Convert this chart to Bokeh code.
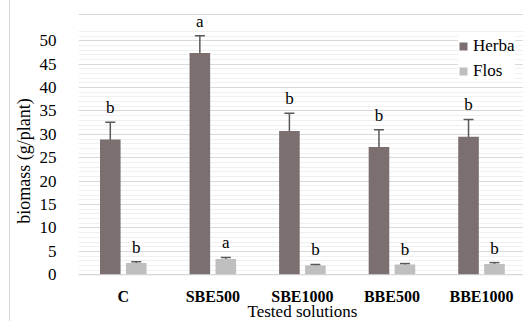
from bokeh.plotting import figure
from bokeh.models import (ColumnDataSource, SingleIntervalTicker, Whisker, Span,
                          TeeHead, LabelSet, Legend, LegendItem)
from bokeh.embed import file_html
from bokeh.resources import INLINE

categories = ["C", "SBE500", "SBE1000", "BBE500", "BBE1000"]
herba = [28.9, 47.4, 30.7, 27.3, 29.5]
herba_err = [3.7, 3.7, 3.8, 3.7, 3.7]
flos = [2.5, 3.4, 2.0, 2.2, 2.3]
flos_err = [0.3, 0.3, 0.2, 0.2, 0.3]
herba_letters = ["b", "a", "b", "b", "b"]
flos_letters = ["b", "a", "b", "b", "b"]
x_title = "Tested solutions"
y_title = "biomass (g/plant)"

FONT = "Liberation Serif"
HERBA_COLOR = "#7b6f6f"
FLOS_COLOR = "#bfbfbf"
ERR_COLOR = "#595959"
BORDER = "#d9d9d9"

centers = [i + 0.5 for i in range(len(categories))]
off = 0.145
bw = 0.23

hsrc = ColumnDataSource(dict(
    x=[c - off for c in centers], top=herba,
    upper=[v + e for v, e in zip(herba, herba_err)],
    lower=[v - e for v, e in zip(herba, herba_err)],
    txt=herba_letters))
fsrc = ColumnDataSource(dict(
    x=[c + off for c in centers], top=flos,
    upper=[v + e for v, e in zip(flos, flos_err)],
    lower=[v - e for v, e in zip(flos, flos_err)],
    txt=flos_letters))
csrc = ColumnDataSource(dict(x=centers, y=[0] * len(centers), txt=categories))
tsrc = ColumnDataSource(dict(x=[sum(centers) / len(centers)], y=[0], txt=[x_title]))

p = figure(width=514, height=321, x_range=(0, 4.98), y_range=(-9.98, 58.61),
           output_backend="svg", toolbar_location=None,
           min_border_left=62, min_border_right=0, min_border_top=0, min_border_bottom=0,
           margin=(0, 0, 0, 9),
           styles={"border-left": "1px solid " + BORDER})
p.outline_line_color = None
p.background_fill_color = "white"
p.xaxis.visible = False

# grid
p.yaxis.ticker = SingleIntervalTicker(interval=5, num_minor_ticks=5)
p.xgrid.grid_line_color = None
p.ygrid.grid_line_color = "#d9d9d9"
p.ygrid.minor_grid_line_color = "#f0f0f0"
p.ygrid.bounds = (0, 52)

# chart-area border line (top)
p.add_layout(Span(location=55.62, dimension="width", line_color=BORDER, line_width=1))

rh = p.vbar(x="x", top="top", width=bw, source=hsrc, color=HERBA_COLOR, line_color=None)
rf = p.vbar(x="x", top="top", width=bw, source=fsrc, color=FLOS_COLOR, line_color=None)

p.add_layout(Span(location=0, dimension="width", line_color="#d9d9d9", line_width=1))

for src in (hsrc, fsrc):
    w = Whisker(base="x", upper="upper", lower="lower", source=src, dimension="height",
                line_color=ERR_COLOR, line_width=1.5,
                upper_head=TeeHead(size=10, line_color=ERR_COLOR, line_width=1.5),
                lower_head=TeeHead(size=10, line_color=ERR_COLOR, line_width=1.5))
    p.add_layout(w)
    ls = LabelSet(x="x", y="upper", text="txt", source=src, y_offset=9,
                  text_align="center", text_baseline="alphabetic",
                  text_font=FONT, text_font_size="17px", text_color="black")
    p.add_layout(ls)

# category labels (x axis) and axis title
p.add_layout(LabelSet(x="x", y="y", text="txt", source=csrc, y_offset=-27,
                      text_align="center", text_baseline="alphabetic",
                      text_font=FONT, text_font_size="16px", text_font_style="bold",
                      text_color="black"))
p.add_layout(LabelSet(x="x", y="y", text="txt", source=tsrc, y_offset=-42,
                      text_align="center", text_baseline="alphabetic",
                      text_font=FONT, text_font_size="17px", text_color="black"))

# y axis
p.yaxis.bounds = (0, 50)
p.yaxis.axis_line_color = None
p.yaxis.major_tick_line_color = None
p.yaxis.minor_tick_line_color = None
p.yaxis.major_label_text_font = FONT
p.yaxis.major_label_text_font_size = "17px"
p.yaxis.major_label_text_color = "black"
p.yaxis.major_label_standoff = 16
p.yaxis.axis_label = y_title
p.yaxis.axis_label_text_font = FONT
p.yaxis.axis_label_text_font_size = "18px"
p.yaxis.axis_label_text_font_style = "normal"
p.yaxis.axis_label_text_color = "black"
p.yaxis.axis_label_standoff = 3

legend = Legend(items=[LegendItem(label="Herba", renderers=[rh]),
                       LegendItem(label="Flos", renderers=[rf])],
                location=(380, 240), orientation="vertical",
                background_fill_color="white", background_fill_alpha=1,
                border_line_color=None, glyph_width=10, glyph_height=10,
                label_standoff=5, padding=5, spacing=5, label_height=20,
                label_text_font=FONT, label_text_font_size="17px",
                label_text_color="black", margin=0)
p.add_layout(legend)

open("out.html", "w").write(file_html(p, INLINE))
